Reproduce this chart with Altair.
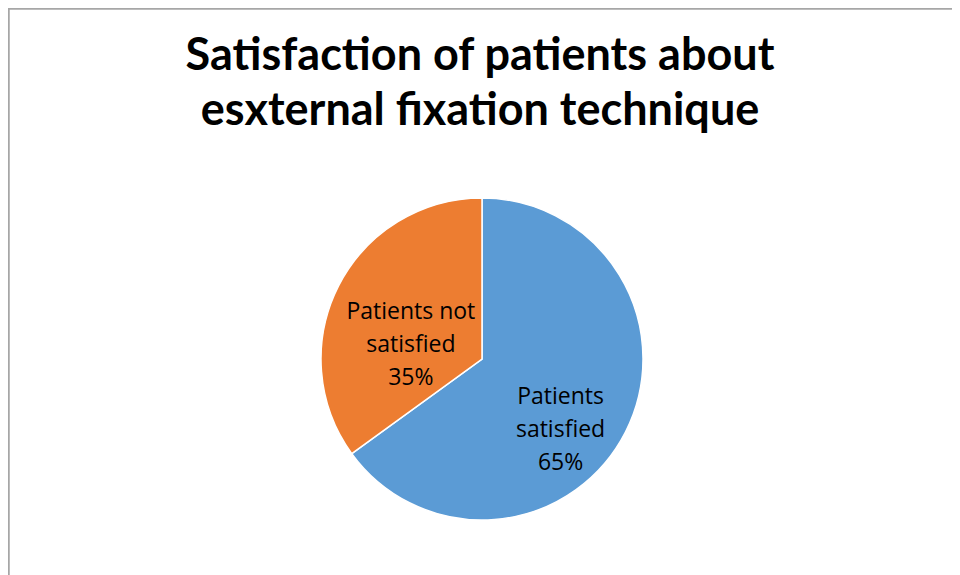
import altair as alt
import pandas as pd

categories = ["Patients satisfied", "Patients not satisfied"]
percents = [65, 35]
label_lines = [["Patients", "satisfied", "65%"], ["Patients not", "satisfied", "35%"]]
colors = ["#5B9BD5", "#ED7D31"]
title_lines = ["Satisfaction of patients about", "esxternal fixation technique"]

df = pd.DataFrame({
    "category": categories,
    "value": percents,
    "order": [0, 1],
    "label": label_lines,
})

PAD_TOP = 117
W, H = 944, 450
CX, CY = 474, 234
R = 161

base = alt.Chart(df).encode(
    theta=alt.Theta("value:Q", stack=True),
    order=alt.Order("order:Q"),
)

pie = base.mark_arc(radius=R, stroke="white", strokeWidth=1.5).encode(
    x=alt.value(CX), y=alt.value(CY),
    color=alt.Color("category:N", scale=alt.Scale(domain=categories, range=colors), legend=None),
)

text_common = dict(font="Open Sans", fontSize=23, lineHeight=33, color="#000000",
                   align="center", baseline="middle")

lab_sat = base.transform_calculate(
    lab=f"datum.category == '{categories[0]}' ? datum.label : ''"
).mark_text(radius=105, dx=-15, dy=-10, **text_common).encode(
    x=alt.value(CX), y=alt.value(CY), text="lab:N",
)

lab_not = base.transform_calculate(
    lab=f"datum.category == '{categories[1]}' ? datum.label : ''"
).mark_text(radius=72, dx=-7, dy=-14, **text_common).encode(
    x=alt.value(CX), y=alt.value(CY), text="lab:N",
)

border_left = alt.Chart(df).mark_rule(color="#A6A6A6", strokeWidth=1.5).encode(
    x=alt.value(0.75), y=alt.value(-PAD_TOP + 0.75), y2=alt.value(H)
)
border_top = alt.Chart(df).mark_rule(color="#A6A6A6", strokeWidth=1.5).encode(
    y=alt.value(-PAD_TOP + 0.75), x=alt.value(0), x2=alt.value(W)
)

chart = alt.layer(pie, lab_sat, lab_not, border_left, border_top).properties(
    width=W, height=H,
    autosize=alt.AutoSizeParams(type="none"),
    padding={"top": PAD_TOP, "left": 0, "right": 0, "bottom": 0},
    title=alt.TitleParams(
        text=title_lines, font="Lato", fontSize=45, fontWeight="bold", color="#000000",
        lineHeight=55, anchor="middle", frame="group", baseline="alphabetic", offset=-162,
    ),
).configure_view(stroke=None)

chart.save("out.html", embed_options={"renderer": "svg", "actions": False})
